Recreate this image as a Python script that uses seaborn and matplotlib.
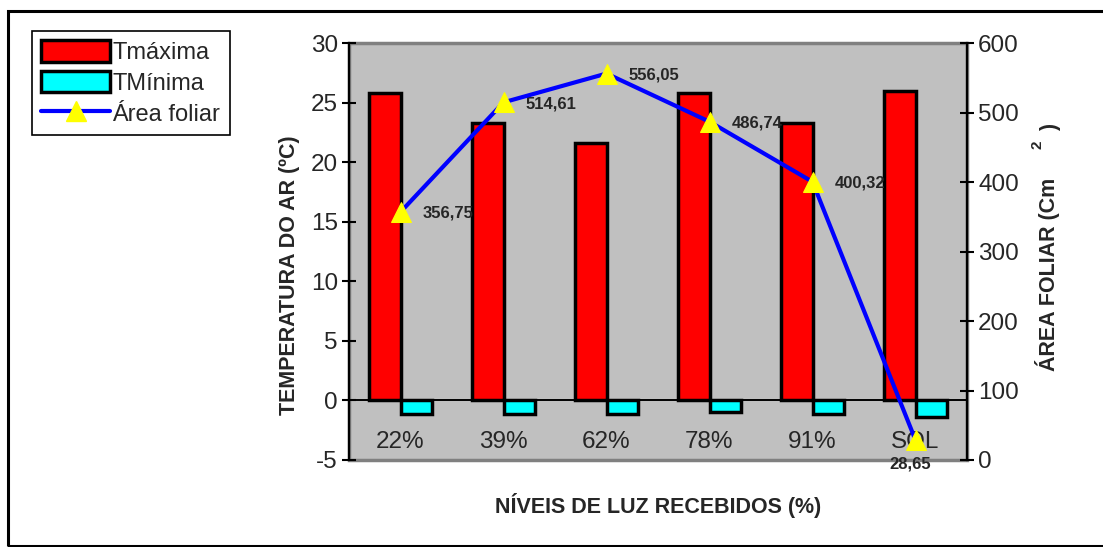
import numpy as np
import pandas as pd
import matplotlib
matplotlib.use("Agg")
import matplotlib.pyplot as plt
import seaborn as sns
from matplotlib.patches import Patch, Rectangle
from matplotlib.lines import Line2D

# Light levels received by the plants
niveis = ["22%", "39%", "62%", "78%", "91%", "SOL"]
# Air temperature (ºC)
t_maxima = [25.8, 23.3, 21.6, 25.8, 23.3, 26.0]
t_minima = [-1.1, -1.1, -1.1, -1.0, -1.1, -1.4]
# Leaf area (cm²)
area_foliar = [356.75, 514.61, 556.05, 486.74, 400.32, 28.65]
area_rotulos = ["356,75", "514,61", "556,05", "486,74", "400,32", "28,65"]
series = ["Tmáxima", "TMínima"]
serie_area = "Área foliar"
ticks_temp = [-5, 0, 5, 10, 15, 20, 25, 30]
ticks_area = [0, 100, 200, 300, 400, 500, 600]

sns.set_style("white")
plt.rcParams["font.family"] = ["Liberation Sans", "DejaVu Sans"]

W, H = 1103, 547
df = pd.DataFrame({
    "nivel": niveis * 2,
    "temp": t_maxima + t_minima,
    "serie": [series[0]] * len(niveis) + [series[1]] * len(niveis),
})

fig = plt.figure(figsize=(W / 100, H / 100), dpi=100)
ax = fig.add_axes([349 / W, 1 - 460 / H, (967 - 349) / W, (460 - 43) / H])

sns.barplot(data=df, x="nivel", y="temp", hue="serie", order=niveis,
            hue_order=series, palette=["#FF0000", "#00FFFF"], saturation=1,
            width=0.62, gap=0, edgecolor="black", linewidth=2.5,
            errorbar=None, legend=False, ax=ax)

ax.set_xlim(-0.5, len(niveis) - 0.5)
ax.set_ylim(-5, 30)
ax.set_facecolor("#C0C0C0")
ax.patch.set_edgecolor("#808080")
ax.patch.set_linewidth(2.5)
ax.set_xlabel("")
ax.set_ylabel("")

for side in ["top", "right"]:
    ax.spines[side].set_visible(False)
ax.spines["left"].set_color("black")
ax.spines["left"].set_linewidth(1.6)
ax.spines["bottom"].set_position(("data", 0))
ax.spines["bottom"].set_color("black")
ax.spines["bottom"].set_linewidth(1.4)

# category separators on the zero line, labels centred under each group
ax.set_xticks(np.arange(len(niveis) - 1) + 0.5)
ax.set_xticklabels([])
ax.set_xticks(np.arange(len(niveis)), minor=True)
ax.set_xticklabels(niveis, minor=True)
ax.tick_params(axis="x", which="major", direction="inout", length=14,
               width=1.2, color="black")
ax.tick_params(axis="x", which="minor", length=0, pad=22, labelsize=17.5)

ax.set_yticks(ticks_temp)
ax.set_yticklabels([str(t) for t in ticks_temp])
ax.tick_params(axis="y", direction="inout", length=10, width=1.5,
               color="black", labelsize=17.5, pad=3)

# leaf area on the secondary axis
ax2 = ax.twinx()
sns.lineplot(x=np.arange(len(niveis)), y=area_foliar, ax=ax2, color="#0000FF",
             linewidth=3, marker="^", markersize=15,
             markerfacecolor="#FFFF00", markeredgecolor="#FFFF00",
             clip_on=False, zorder=5)
ax2.set_ylim(0, 600)
ax2.set_yticks(ticks_area)
ax2.set_yticklabels([str(t) for t in ticks_area])
for side in ["top", "left", "bottom"]:
    ax2.spines[side].set_visible(False)
ax2.spines["right"].set_color("black")
ax2.spines["right"].set_linewidth(1.6)
ax2.tick_params(axis="y", direction="inout", length=10, width=1.5,
                color="black", labelsize=17.5, pad=3)
ax2.set_ylabel("")

for i, (v, txt) in enumerate(zip(area_foliar, area_rotulos)):
    if i == len(niveis) - 1:
        ax2.annotate(txt, (i, v), xytext=(-4, -17), textcoords="offset points",
                     ha="center", va="center", fontsize=12,
                     fontweight="bold", annotation_clip=False)
    else:
        ax2.annotate(txt, (i, v), xytext=(16, -1), textcoords="offset points",
                     ha="left", va="center", fontsize=12,
                     fontweight="bold", annotation_clip=False)

# axis titles
fig.text(290 / W, 1 - 275 / H, "TEMPERATURA DO AR (ºC)", rotation=90,
         ha="center", va="center", fontsize=15.5, fontweight="bold")
fig.text(1047 / W, 1 - 274 / H, "ÁREA FOLIAR (Cm", rotation=90,
         ha="center", va="center", fontsize=15.5, fontweight="bold")
fig.text(1037 / W, 1 - 145 / H, "2", rotation=90,
         ha="center", va="center", fontsize=11, fontweight="bold")
fig.text(1051 / W, 1 - 127 / H, ")", rotation=90,
         ha="center", va="center", fontsize=15.5, fontweight="bold")
fig.text(658 / W, 1 - 505 / H, "NÍVEIS DE LUZ RECEBIDOS (%)",
         ha="center", va="center", fontsize=15.5, fontweight="bold")

# legend
handles = [
    Patch(facecolor="#FF0000", edgecolor="black", linewidth=2.5),
    Patch(facecolor="#00FFFF", edgecolor="black", linewidth=2.5),
    Line2D([], [], color="#0000FF", linewidth=3, marker="^", markersize=15,
           markerfacecolor="#FFFF00", markeredgecolor="#FFFF00"),
]
leg = fig.legend(handles, series + [serie_area], loc="upper left",
                 bbox_to_anchor=(32 / W, 1 - 31 / H), fontsize=17,
                 frameon=True, fancybox=False, framealpha=1,
                 edgecolor="black", handlelength=2.9, handleheight=1.0,
                 handletextpad=0.1, labelspacing=0.3, borderpad=0.4,
                 borderaxespad=0)
leg.get_frame().set_linewidth(1.2)

# outer frame of the chart
fig.patches.append(Rectangle((8 / W, 1 - 546 / H), 1.1, (546 - 11) / H,
                             transform=fig.transFigure, fill=False,
                             edgecolor="black", linewidth=2.2))

fig.savefig("out.png", dpi=100)
